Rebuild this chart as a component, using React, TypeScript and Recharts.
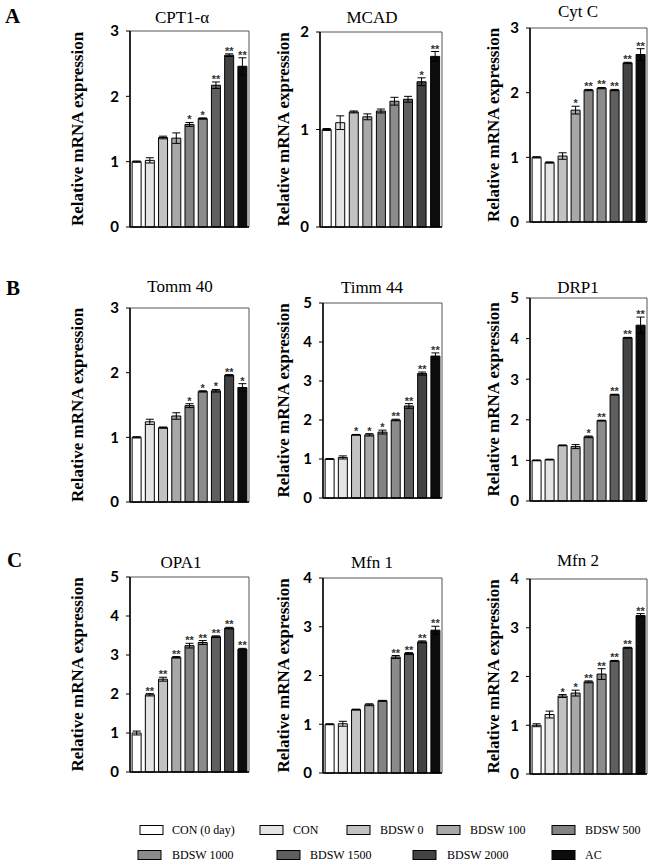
import React from "react";
import {
  BarChart,
  Bar,
  XAxis,
  YAxis,
  ErrorBar,
  Cell,
  LabelList,
  ReferenceArea,
  Label,
} from "recharts";

// treatment groups, in bar order
const groups = [
  "CON (0 day)",
  "CON",
  "BDSW 0",
  "BDSW 100",
  "BDSW 500",
  "BDSW 1000",
  "BDSW 1500",
  "BDSW 2000",
  "AC",
];
const groupFills = [
  "#ffffff",
  "#e4e4e4",
  "#c2c2c2",
  "#a8a8a8",
  "#838383",
  "#8b8b8b",
  "#5f5f5f",
  "#434343",
  "#0c0c0c",
];

// A
const cpt1Mean = [1.0, 1.02, 1.37, 1.36, 1.57, 1.66, 2.17, 2.63, 2.46];
const cpt1Err = [0.01, 0.04, 0.02, 0.08, 0.03, 0.01, 0.05, 0.02, 0.13];
const cpt1Sig = ["", "", "", "", "*", "*", "**", "**", "**"];

const mcadMean = [1.0, 1.07, 1.18, 1.13, 1.19, 1.29, 1.31, 1.49, 1.75];
const mcadErr = [0.01, 0.07, 0.01, 0.03, 0.02, 0.04, 0.03, 0.04, 0.05];
const mcadSig = ["", "", "", "", "", "", "", "*", "**"];

const cytcMean = [1.0, 0.92, 1.02, 1.73, 2.04, 2.07, 2.04, 2.46, 2.59];
const cytcErr = [0.01, 0.01, 0.05, 0.06, 0.01, 0.01, 0.01, 0.01, 0.09];
const cytcSig = ["", "", "", "*", "**", "**", "**", "**", "**"];

// B
const tomm40Mean = [1.0, 1.24, 1.15, 1.33, 1.49, 1.71, 1.72, 1.96, 1.77];
const tomm40Err = [0.01, 0.04, 0.01, 0.05, 0.03, 0.01, 0.02, 0.01, 0.06];
const tomm40Sig = ["", "", "", "", "*", "*", "*", "**", "*"];

const timm44Mean = [1.0, 1.04, 1.62, 1.62, 1.69, 2.0, 2.36, 3.19, 3.64];
const timm44Err = [0.01, 0.04, 0.01, 0.03, 0.05, 0.02, 0.06, 0.04, 0.08];
const timm44Sig = ["", "", "*", "*", "*", "**", "**", "**", "**"];

const drp1Mean = [1.0, 1.02, 1.37, 1.34, 1.58, 1.98, 2.62, 4.02, 4.33];
const drp1Err = [0.01, 0.01, 0.01, 0.05, 0.02, 0.01, 0.01, 0.01, 0.2];
const drp1Sig = ["", "", "", "", "*", "**", "**", "**", "**"];

// C
const opa1Mean = [1.0, 1.98, 2.38, 2.94, 3.24, 3.32, 3.47, 3.69, 3.15];
const opa1Err = [0.05, 0.03, 0.05, 0.02, 0.06, 0.05, 0.02, 0.02, 0.02];
const opa1Sig = ["", "**", "**", "**", "**", "**", "**", "**", "**"];

const mfn1Mean = [1.0, 1.01, 1.3, 1.4, 1.48, 2.38, 2.45, 2.69, 2.93];
const mfn1Err = [0.01, 0.05, 0.01, 0.02, 0.01, 0.03, 0.02, 0.02, 0.08];
const mfn1Sig = ["", "", "", "", "", "**", "**", "**", "**"];

const mfn2Mean = [1.0, 1.22, 1.6, 1.66, 1.89, 2.05, 2.32, 2.59, 3.25];
const mfn2Err = [0.03, 0.07, 0.03, 0.06, 0.02, 0.11, 0.01, 0.01, 0.04];
const mfn2Sig = ["", "", "*", "*", "**", "**", "**", "**", "**"];

const AXIS_W = 70;
const TOP = 14;
const RIGHT = 4;
const X_H = 4;
const BOTTOM = 10;

// plot rectangles and text spots
const panels = [
  { title: "CPT1-α", max: 3, mean: cpt1Mean, err: cpt1Err, sig: cpt1Sig, x: 130, y: 31, w: 119, h: 196, labelX: 77, tx: 182, ty: 23 },
  { title: "MCAD", max: 2, mean: mcadMean, err: mcadErr, sig: mcadSig, x: 320, y: 32, w: 122, h: 195, labelX: 283, tx: 372, ty: 23 },
  { title: "Cyt C", max: 3, mean: cytcMean, err: cytcErr, sig: cytcSig, x: 530, y: 28, w: 117, h: 194, labelX: 493, tx: 578, ty: 17 },
  { title: "Tomm 40", max: 3, mean: tomm40Mean, err: tomm40Err, sig: tomm40Sig, x: 130, y: 308, w: 119, h: 194, labelX: 77, tx: 180, ty: 292 },
  { title: "Timm 44", max: 5, mean: timm44Mean, err: timm44Err, sig: timm44Sig, x: 323, y: 303, w: 119, h: 195, labelX: 283, tx: 372, ty: 293 },
  { title: "DRP1", max: 5, mean: drp1Mean, err: drp1Err, sig: drp1Sig, x: 530, y: 298, w: 117, h: 203, labelX: 493, tx: 578, ty: 293 },
  { title: "OPA1", max: 5, mean: opa1Mean, err: opa1Err, sig: opa1Sig, x: 130, y: 577, w: 119, h: 195, labelX: 77, tx: 181, ty: 568 },
  { title: "Mfn 1", max: 4, mean: mfn1Mean, err: mfn1Err, sig: mfn1Sig, x: 323, y: 578, w: 119, h: 195, labelX: 283, tx: 372, ty: 568 },
  { title: "Mfn 2", max: 4, mean: mfn2Mean, err: mfn2Err, sig: mfn2Sig, x: 530, y: 579, w: 117, h: 195, labelX: 493, tx: 578, ty: 566 },
];

const letters = [
  { text: "A", x: 5, y: 23 },
  { text: "B", x: 6, y: 295 },
  { text: "C", x: 7, y: 567 },
];

const legendSpots = [
  { sx: 140, tx: 172, y: 830 },
  { sx: 260, tx: 293, y: 830 },
  { sx: 347, tx: 380, y: 830 },
  { sx: 437, tx: 470, y: 830 },
  { sx: 552, tx: 585, y: 830 },
  { sx: 138, tx: 172, y: 855 },
  { sx: 277, tx: 310, y: 855 },
  { sx: 413, tx: 447, y: 855 },
  { sx: 552, tx: 585, y: 855 },
];

const serif = "Liberation Serif";

function starLabel(mean: number[], err: number[]) {
  return (props: any) => {
    const { x, y, width, height, value, index } = props;
    if (!value) return null;
    const ppu = Number(height) / mean[index];
    const capTop = Number(y) - err[index] * ppu;
    return (
      <text
        x={Number(x) + Number(width) / 2}
        y={capTop + 1}
        textAnchor="middle"
        fontSize={11}
        fontWeight={700}
        fontFamily="Liberation Sans"
        fill="#333"
      >
        {value}
      </text>
    );
  };
}

function yTitle(cx: number) {
  return (props: any) => {
    const vb = props.viewBox;
    const cy = vb.y + vb.height / 2;
    return (
      <text
        x={cx}
        y={cy}
        transform={`rotate(-90, ${cx}, ${cy})`}
        textAnchor="middle"
        dominantBaseline="central"
        fontFamily={serif}
        fontWeight={700}
        fontSize={17}
        fill="#000"
      >
        Relative mRNA expression
      </text>
    );
  };
}

function Panel({ p }: { p: (typeof panels)[number] }) {
  const data = groups.map((g, i) => ({
    group: g,
    mean: p.mean[i],
    err: p.err[i],
    sig: p.sig[i],
  }));
  const ticks = Array.from({ length: p.max + 1 }, (_, i) => i);
  const left = p.x - AXIS_W;
  return (
    <div style={{ position: "absolute", left, top: p.y - TOP }}>
      <BarChart
        width={AXIS_W + p.w + RIGHT}
        height={TOP + p.h + X_H + BOTTOM}
        data={data}
        margin={{ top: TOP, right: RIGHT, bottom: BOTTOM, left: 0 }}
        barCategoryGap="16%"
      >
        <ReferenceArea
          y1={0}
          y2={p.max}
          fill="none"
          stroke="#555"
          strokeWidth={1}
          ifOverflow="visible"
        />
        <XAxis
          dataKey="group"
          tick={false}
          tickLine={false}
          height={X_H}
          axisLine={{ stroke: "#000", strokeWidth: 1.5 }}
        />
        <YAxis
          width={AXIS_W}
          domain={[0, p.max]}
          ticks={ticks}
          interval={0}
          tickSize={4}
          tickMargin={7}
          axisLine={{ stroke: "#000", strokeWidth: 1.5 }}
          tickLine={{ stroke: "#000" }}
          tick={{
            fill: "#000",
            fontSize: 15,
            fontWeight: 700,
            fontFamily: "Lato",
          }}
        >
          <Label content={yTitle(p.labelX - left)} />
        </YAxis>
        <Bar dataKey="mean" stroke="#000" strokeWidth={1} isAnimationActive={false}>
          {data.map((d, i) => (
            <Cell key={d.group} fill={groupFills[i]} />
          ))}
          <ErrorBar dataKey="err" width={4} stroke="#000" strokeWidth={1} direction="y" />
          <LabelList dataKey="sig" content={starLabel(p.mean, p.err)} />
        </Bar>
      </BarChart>
    </div>
  );
}

export default function App() {
  return (
    <div
      style={{
        position: "absolute",
        left: 0,
        top: 0,
        width: 651,
        height: 866,
        background: "#fff",
      }}
    >
      {panels.map((p) => (
        <Panel key={p.title} p={p} />
      ))}
      <svg
        width={651}
        height={866}
        style={{ position: "absolute", left: 0, top: 0, pointerEvents: "none" }}
      >
        {letters.map((l) => (
          <text key={l.text} x={l.x} y={l.y} fontFamily={serif} fontWeight={700} fontSize={21}>
            {l.text}
          </text>
        ))}
        {panels.map((p) => (
          <text
            key={p.title}
            x={p.tx}
            y={p.ty}
            textAnchor="middle"
            fontFamily={serif}
            fontSize={17}
          >
            {p.title}
          </text>
        ))}
        {groups.map((g, i) => (
          <g key={g}>
            <rect
              x={legendSpots[i].sx}
              y={legendSpots[i].y - 4.5}
              width={23}
              height={9}
              fill={groupFills[i]}
              stroke="#000"
              strokeWidth={1}
            />
            <text x={legendSpots[i].tx} y={legendSpots[i].y + 4} fontFamily={serif} fontSize={12}>
              {g}
            </text>
          </g>
        ))}
      </svg>
    </div>
  );
}
